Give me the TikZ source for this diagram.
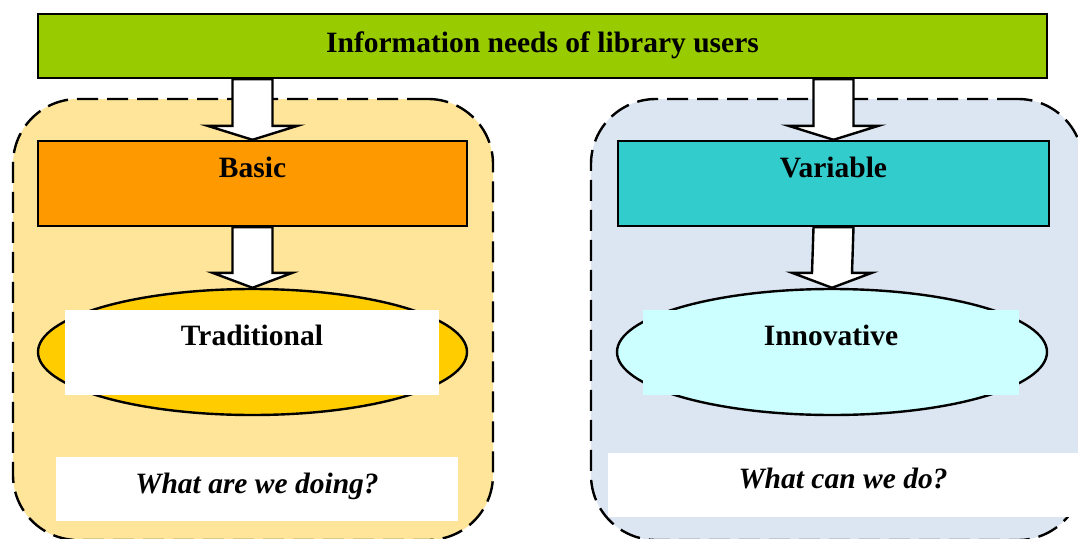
\documentclass[tikz,border=0pt]{standalone}
\usepackage{fontspec}
\setmainfont{Liberation Serif}
\usetikzlibrary{calc}
\usetikzlibrary{shapes.geometric}

\definecolor{topgreen}{HTML}{99CC00}
\definecolor{basicorange}{HTML}{FF9900}
\definecolor{variableteal}{HTML}{33CCCC}
\definecolor{tradyellow}{HTML}{FFCC00}
\definecolor{innovcyan}{HTML}{CCFFFF}
\definecolor{leftzone}{HTML}{FFE599}
\definecolor{rightzone}{HTML}{DCE6F2}

\begin{document}
\begin{tikzpicture}
		[x=1pt,y=-1pt,font=\fontsize{29.5}{34}\selectfont\bfseries,
		box node/.style={shape=rectangle,draw,line width=2.4pt,inner sep=0pt},
		oval node/.style={shape=ellipse,draw,line width=2.4pt,inner sep=0pt,minimum height=126pt},
		pad node/.style={shape=rectangle,inner sep=0pt,text height=35pt,text depth=50pt},
		zone node/.style={shape=rectangle,draw,line width=2.4pt,dash pattern=on 21pt off 9pt,rounded corners=65pt,minimum height=441pt},
		fat arrow/.style={draw,fill=white,line width=2.4pt,line join=miter}
		]
		
		\clip (0,0) rectangle (1078,538);
		
		\node [zone node,fill=leftzone,minimum width=480pt] (10) at (253,319.5) {};
		\node [zone node,fill=rightzone,minimum width=492pt] (11) at (837,319.5) {};
		
		\node [box node,fill=topgreen,minimum width=1009pt,text height=38pt,text depth=26pt] (1) at (542.5,46) {Information needs of library users};
		\node [box node,fill=basicorange,minimum width=429pt,text height=36pt,text depth=49pt] (2) at (252.5,183.5) {Basic};
		\node [box node,fill=variableteal,minimum width=431pt,text height=36pt,text depth=49pt] (3) at (833.5,183.5) {Variable};
		
		\node [oval node,fill=tradyellow,minimum width=429pt] (4) at (252.5,352) {};
		\node [oval node,fill=innovcyan,minimum width=430pt] (5) at (832,352) {};
		\node [pad node,fill=white,minimum width=374pt] (6) at (252,352.5) {Traditional};
		\node [pad node,fill=innovcyan,minimum width=376pt] (7) at (831,352.5) {Innovative};
		
		\node [pad node,fill=white,minimum width=402pt,text height=36pt,text depth=28pt,font=\fontsize{29.5}{34}\selectfont\bfseries\itshape] (8) at (257,489) {What are we doing?};
		\node [pad node,fill=white,minimum width=470pt,text height=35pt,text depth=29pt,font=\fontsize{29.5}{34}\selectfont\bfseries\itshape] (9) at (843,485) {What can we do?};
		
		
		\draw [fat arrow] ($(1.south -| 2.north)+(-20,0)$) -- ($(1.south -| 2.north)+(20,0)$) -- ($(2.north)+(20,-14)$) -- ($(2.north)+(45,-14)$) -- (2.north) -- ($(2.north)+(-45,-14)$) -- ($(2.north)+(-20,-14)$) -- cycle;
		\draw [fat arrow] ($(2.south)+(-20,0)$) -- ($(2.south)+(20,0)$) -- ($(4.north)+(20,-15)$) -- ($(4.north)+(40,-15)$) -- (4.north) -- ($(4.north)+(-40,-15)$) -- ($(4.north)+(-20,-15)$) -- cycle;
		\draw [fat arrow] ($(1.south -| 3.north)+(-20,0)$) -- ($(1.south -| 3.north)+(20,0)$) -- ($(3.north)+(20,-14)$) -- ($(3.north)+(45,-14)$) -- (3.north) -- ($(3.north)+(-45,-14)$) -- ($(3.north)+(-20,-14)$) -- cycle;
		\draw [fat arrow] ($(3.south)+(-20,0)$) -- ($(3.south)+(20,0)$) -- ($(5.north)+(20,-15)$) -- ($(5.north)+(40,-15)$) -- (5.north) -- ($(5.north)+(-40,-15)$) -- ($(5.north)+(-20,-15)$) -- cycle;
		
		\end{tikzpicture}
\end{document}
